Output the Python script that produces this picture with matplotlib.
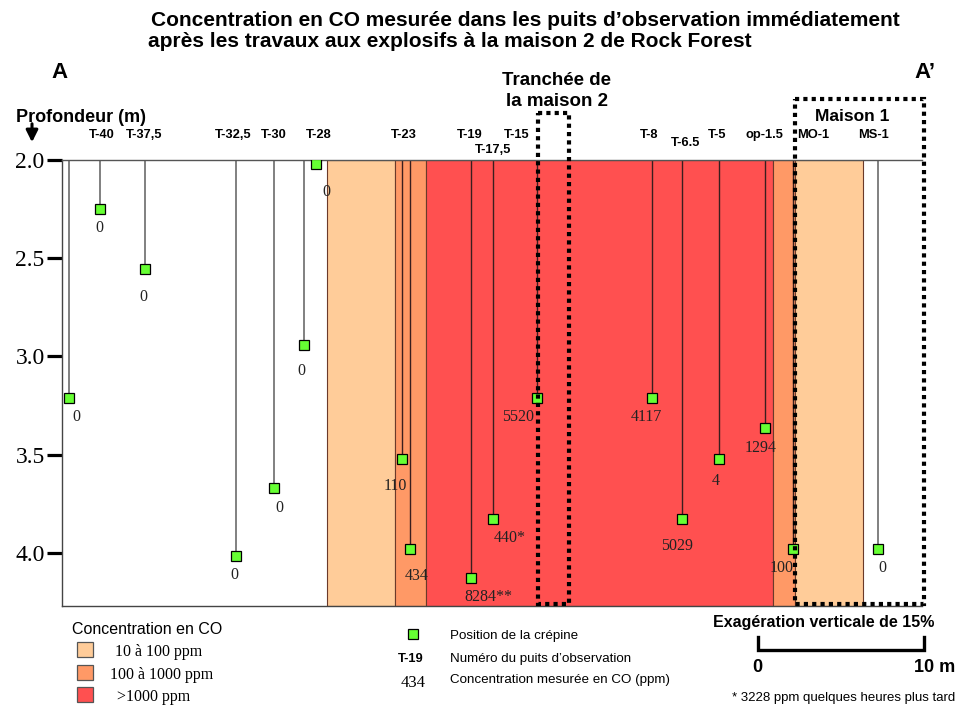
import matplotlib
matplotlib.use("Agg")
import matplotlib.pyplot as plt
from matplotlib.patches import Rectangle
from matplotlib.lines import Line2D
import matplotlib.transforms as mtransforms

SANS = "Liberation Sans"
SERIF = "Liberation Serif"

# wells: position along section (m from A), screen depth (m), CO measured (ppm)
well_x = [0.42, 2.29, 5.02, 10.48, 12.77, 14.56, 15.3, 20.5, 20.96, 24.62,
          25.96, 28.6, 35.52, 37.33, 39.58, 42.35, 44.05, 49.16]
screen_depth = [3.21, 2.25, 2.555, 4.015, 3.67, 2.94, 2.02, 3.52, 3.98, 4.13,
                3.825, 3.21, 3.21, 3.825, 3.52, 3.365, 3.98, 3.98]
co_text = ["0", "0", "0", "0", "0", "0", "0", "110", "434", "8284**",
           "440*", "5520", "4117", "5029", "4", "1294", "100", "0"]

# well names above the section
well_names = ["T-40", "T-37,5", "T-32,5", "T-30", "T-28", "T-23", "T-19",
              "T-17,5", "T-15", "T-8", "T-6.5", "T-5", "op-1.5", "MO-1", "MS-1"]
name_x = [2.39, 4.94, 10.30, 12.77, 15.48, 20.60, 24.58, 25.96, 27.41,
          35.36, 37.53, 39.46, 42.29, 45.24, 48.86]

# concentration zones
zone_start = [15.96, 20.06, 21.91, 42.83, 44.16]
zone_end = [20.06, 21.91, 42.83, 44.16, 48.25]
zone_class = [0, 1, 2, 1, 0]
class_labels = ["10 à 100 ppm", "100 à 1000 ppm", ">1000 ppm"]
class_colors = ["#FFCC99", "#FF9966", "#FF5050"]

depth_ticks = [2.0, 2.5, 3.0, 3.5, 4.0]

W, H = 956, 706
fig = plt.figure(figsize=(W / 100, H / 100), dpi=100)


def fx(px):
    return px / W


def fy(py):
    return 1 - py / H


ax = fig.add_axes([fx(62), fy(606), fx(922) - fx(62), fy(160) - fy(606)])
ax.set_xlim(0, 51.8)
ax.set_ylim(4.27, 2.0)

for s, e, c in zip(zone_start, zone_end, zone_class):
    ax.add_patch(Rectangle((s, 2.0), e - s, 2.27, facecolor=class_colors[c],
                           edgecolor="#6b3a2a", lw=0.8, zorder=1))

# well casings and screens
label_off = [(7, 19), (-1, 19), (-2, 28), (-2, 19), (5, 20), (-2, 26), (10, 28),
             (-7, 27), (7, 27), (18, 19), (17, 19), (-19, 19), (-5, 19), (-5, 27),
             (-3, 22), (-4, 20), (-12, 19), (4, 19)]
for x, d, t, off in zip(well_x, screen_depth, co_text, label_off):
    white = x < zone_start[0] or x > zone_end[-1]
    ax.plot([x, x], [2.0, d], color="#808080" if white else "#3a1e1e",
            lw=1.4 if white else 1.0, zorder=2)
    ax.plot(x, d, marker="s", ms=7, mfc="#66FF33", mec="black", mew=0.9,
            zorder=4)
    ax.annotate(t, (x, d), xytext=(off[0], -off[1]), textcoords="offset pixels",
                ha="center", va="center", fontsize=11.5, family=SERIF,
                color="#222222", zorder=5)

# well names
name_dy = {"T-17,5": 15, "T-6.5": 8}
trans = mtransforms.blended_transform_factory(ax.transData, fig.transFigure)
for n, x in zip(well_names, name_x):
    fig.text(x, fy(138 + name_dy.get(n, 0)), n, transform=trans,
             ha="center", va="baseline", fontsize=9.3, fontweight="bold",
             family=SANS)

# dotted boxes: trench of house 2 and house 1
for x0, x1, ytop in [(28.66, 30.52, 1.76), (44.16, 51.93, 1.69)]:
    ax.add_patch(Rectangle((x0, ytop), x1 - x0, 4.262 - ytop, fill=False,
                           ls=(0, (1, 1)), lw=3, ec="black", clip_on=False,
                           zorder=6))

ax.set_xticks([])
ax.set_yticks(depth_ticks)
ax.set_yticklabels([f"{v:.1f}" for v in depth_ticks], family=SERIF,
                   fontsize=17)
ax.tick_params(axis="y", length=11, width=2.3, pad=1.5, direction="out")
ax.spines["right"].set_visible(False)
ax.spines["top"].set_color("#555555")
ax.spines["left"].set_color("#444444")
ax.spines["bottom"].set_color("#444444")
for sp in ax.spines.values():
    sp.set_linewidth(1.0)

# titles and headings
fig.text(fx(525), fy(26), "Concentration en CO mesurée dans les puits d\u2019observation immédiatement",
         ha="center", va="baseline", fontsize=15, fontweight="bold", family=SANS)
fig.text(fx(450), fy(47), "après les travaux aux explosifs à la maison 2 de Rock Forest",
         ha="center", va="baseline", fontsize=15, fontweight="bold", family=SANS)
fig.text(fx(59), fy(78), "A", ha="center", va="baseline", fontsize=16,
         fontweight="bold", family=SANS)
fig.text(fx(925), fy(78), "A\u2019", ha="center", va="baseline", fontsize=16,
         fontweight="bold", family=SANS)
fig.text(fx(557), fy(85), "Tranchée de", ha="center", va="baseline",
         fontsize=13.5, fontweight="bold", family=SANS)
fig.text(fx(557), fy(106), "la maison 2", ha="center", va="baseline",
         fontsize=13.5, fontweight="bold", family=SANS)
fig.text(fx(852), fy(121), "Maison 1", ha="center", va="baseline",
         fontsize=12.5, fontweight="bold", family=SANS)
fig.text(fx(16), fy(122), "Profondeur (m)", ha="left", va="baseline",
         fontsize=13, fontweight="bold", family=SANS)
fig.add_artist(plt.Annotation("", xy=(fx(32), fy(145)), xytext=(fx(32), fy(121)),
                              xycoords="figure fraction",
                              arrowprops=dict(arrowstyle="-|>,head_width=0.35,head_length=0.7",
                                              color="black", lw=2.2)))

# concentration legend
fig.text(fx(72), fy(629), "Concentration en CO", ha="left", va="center",
         fontsize=11.5, family=SANS)
for i, (lab, col) in enumerate(zip(class_labels, class_colors)):
    top = [642, 665, 687][i]
    fig.add_artist(Rectangle((fx(77), fy(top + 15)), fx(16), 15 / H,
                             transform=fig.transFigure, facecolor=col,
                             edgecolor="#555555", lw=0.9))
    fig.text(fx([115, 110, 117][i]), fy(top + 10), lab, ha="left",
             va="center", fontsize=11.5, family=SERIF)

# symbol legend
fig.add_artist(Line2D([fx(413)], [fy(634)], marker="s", ms=7, mfc="#66FF33",
                      mec="black", mew=0.9, transform=fig.transFigure))
fig.text(fx(411), fy(659), "T-19", ha="center", va="center", fontsize=9.3,
         fontweight="bold", family=SANS)
fig.text(fx(413), fy(683), "434", ha="center", va="center", fontsize=12,
         family=SERIF)
for yy, t in zip([636, 659, 680], ["Position de la crépine",
                                   "Numéro du puits d\u2019observation",
                                   "Concentration mesurée en CO (ppm)"]):
    fig.text(fx(450), fy(yy), t, ha="left", va="center", fontsize=9.6,
             family=SANS)

# scale bar
fig.text(fx(824), fy(622), "Exagération verticale de 15%", ha="center",
         va="center", fontsize=11.5, fontweight="bold", family=SANS)
fig.add_artist(Line2D([fx(758), fx(758), fx(924), fx(924)],
                      [fy(637), fy(650), fy(650), fy(637)], color="black",
                      lw=2.4, transform=fig.transFigure,
                      solid_joinstyle="miter"))
fig.text(fx(757), fy(668), "0", ha="center", va="center", fontsize=13,
         fontweight="bold", family=SANS)
fig.text(fx(955), fy(668), "10 m", ha="right", va="center", fontsize=13,
         fontweight="bold", family=SANS)
fig.text(fx(955), fy(698), "* 3228 ppm quelques heures plus tard",
         ha="right", va="center", fontsize=9.5, family=SANS)

fig.savefig("out.png", dpi=100)
